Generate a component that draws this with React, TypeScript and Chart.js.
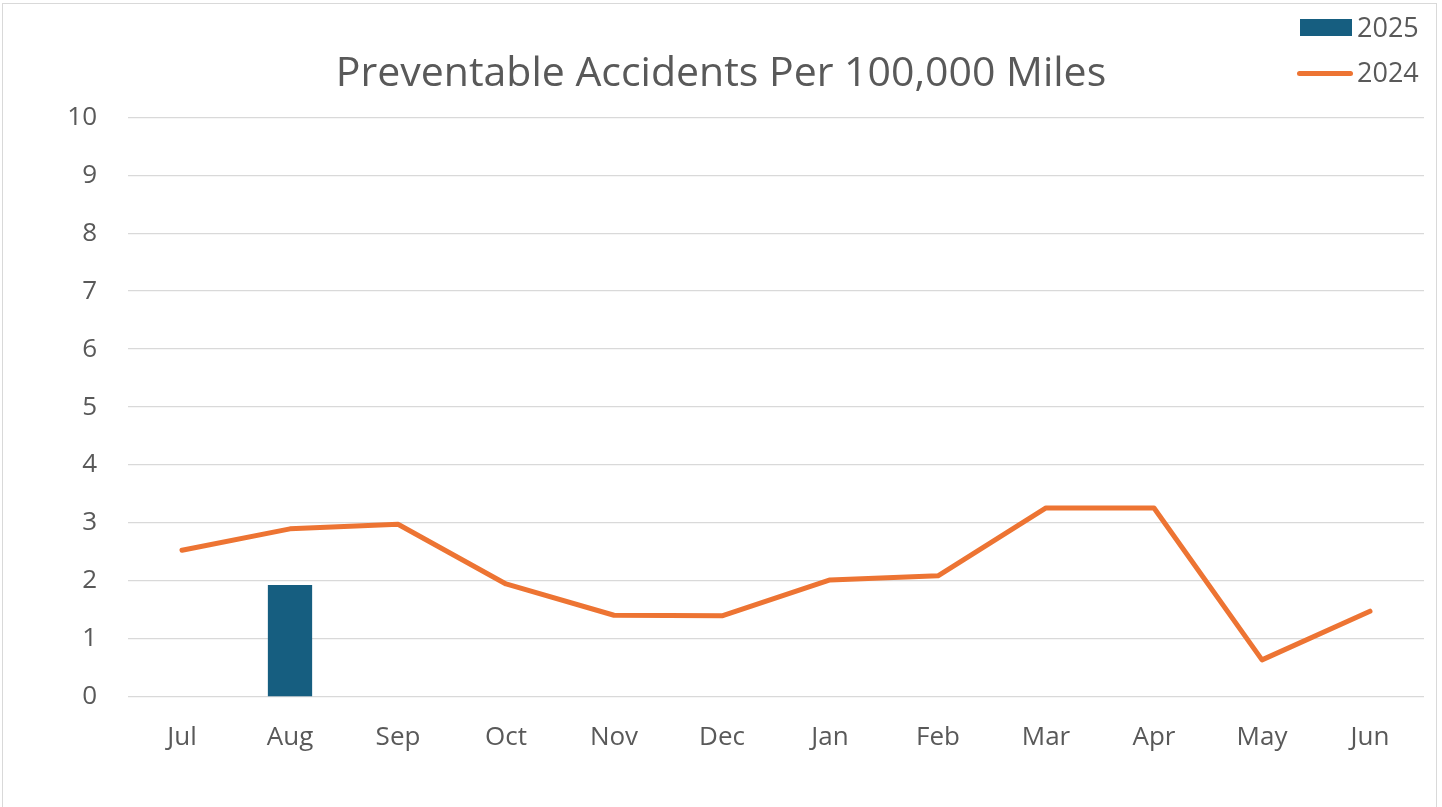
import React, { useEffect, useRef } from "react";
import { Chart, registerables } from "chart.js";

Chart.register(...registerables);

const categories = ["Jul", "Aug", "Sep", "Oct", "Nov", "Dec", "Jan", "Feb", "Mar", "Apr", "May", "Jun"];
const values2025: (number | null)[] = [null, 1.93, null, null, null, null, null, null, null, null, null, null];
const values2024 = [2.53, 2.9, 2.98, 1.95, 1.41, 1.4, 2.02, 2.09, 3.26, 3.26, 0.64, 1.48];
const yTicks = [0, 1, 2, 3, 4, 5, 6, 7, 8, 9, 10];

const BAR_COLOR = "#165E80";
const LINE_COLOR = "#ED7433";
const TEXT_COLOR = "#595959";
const FONT = "'Open Sans', 'Noto Sans', sans-serif";

export default function App() {
  const ref = useRef<HTMLCanvasElement | null>(null);

  useEffect(() => {
    document.body.style.margin = "0";
    const ctx = ref.current;
    if (!ctx) return;
    const chart = new Chart(ctx, {
      data: {
        labels: categories,
        datasets: [
          {
            type: "line",
            label: "2024",
            data: values2024,
            borderColor: LINE_COLOR,
            backgroundColor: LINE_COLOR,
            borderWidth: 5,
            pointRadius: 0,
            tension: 0,
            borderCapStyle: "round",
            borderJoinStyle: "round",
            order: 1,
          },
          {
            type: "bar",
            label: "2025",
            data: values2025,
            backgroundColor: BAR_COLOR,
            barPercentage: 0.41,
            categoryPercentage: 1,
            order: 2,
          },
        ],
      },
      options: {
        animation: false,
        responsive: false,
        maintainAspectRatio: false,
        layout: { padding: 0 },
        plugins: {
          legend: { display: false },
          tooltip: { enabled: false },
          title: {
            display: true,
            text: "Preventable Accidents Per 100,000 Miles",
            color: TEXT_COLOR,
            font: { family: FONT, size: 41, weight: "normal", lineHeight: 1.2 },
            padding: { top: 50, bottom: 18 },
          },
        },
        scales: {
          x: {
            type: "category",
            offset: true,
            grid: { display: false, drawTicks: false },
            border: { display: false },
            ticks: {
              color: TEXT_COLOR,
              font: { family: FONT, size: 26 },
              padding: 25,
              maxRotation: 0,
            },
            afterFit: (s: any) => {
              s.height = 110;
            },
          },
          y: {
            min: 0,
            max: 10,
            grid: { color: "#D9D9D9", lineWidth: 1.3, drawTicks: false },
            border: { display: false },
            afterBuildTicks: (s: any) => {
              s.ticks = yTicks.map((v) => ({ value: v }));
            },
            ticks: {
              color: TEXT_COLOR,
              font: { family: FONT, size: 26 },
              padding: 31,
            },
            afterFit: (s: any) => {
              s.width = 128;
            },
          },
          yRight: {
            position: "right",
            display: true,
            grid: { display: false, drawTicks: false },
            border: { display: false },
            ticks: { display: false },
            afterFit: (s: any) => {
              s.width = 18;
            },
          },
        },
      },
    });
    return () => chart.destroy();
  }, []);

  return (
    <div style={{ position: "relative", width: 1442, height: 807, background: "#fff", overflow: "hidden" }}>
      <canvas ref={ref} width={1442} height={807} style={{ position: "absolute", left: 0, top: 0 }} />
      <div
        style={{
          position: "absolute",
          left: 2,
          top: 3,
          width: 1435,
          height: 820,
          border: "1.5px solid #D9D9D9",
          boxSizing: "border-box",
          pointerEvents: "none",
        }}
      />
      <div style={{ position: "absolute", left: 1300, top: 19, width: 52, height: 17, background: BAR_COLOR }} />
      <div
        style={{
          position: "absolute",
          left: 1357,
          top: 10,
          fontFamily: FONT,
          fontSize: 27,
          lineHeight: "34px",
          color: TEXT_COLOR,
        }}
      >
        2025
      </div>
      <div
        style={{
          position: "absolute",
          left: 1297,
          top: 70.5,
          width: 56,
          height: 5,
          borderRadius: 3,
          background: LINE_COLOR,
        }}
      />
      <div
        style={{
          position: "absolute",
          left: 1357,
          top: 55,
          fontFamily: FONT,
          fontSize: 27,
          lineHeight: "34px",
          color: TEXT_COLOR,
        }}
      >
        2024
      </div>
    </div>
  );
}
